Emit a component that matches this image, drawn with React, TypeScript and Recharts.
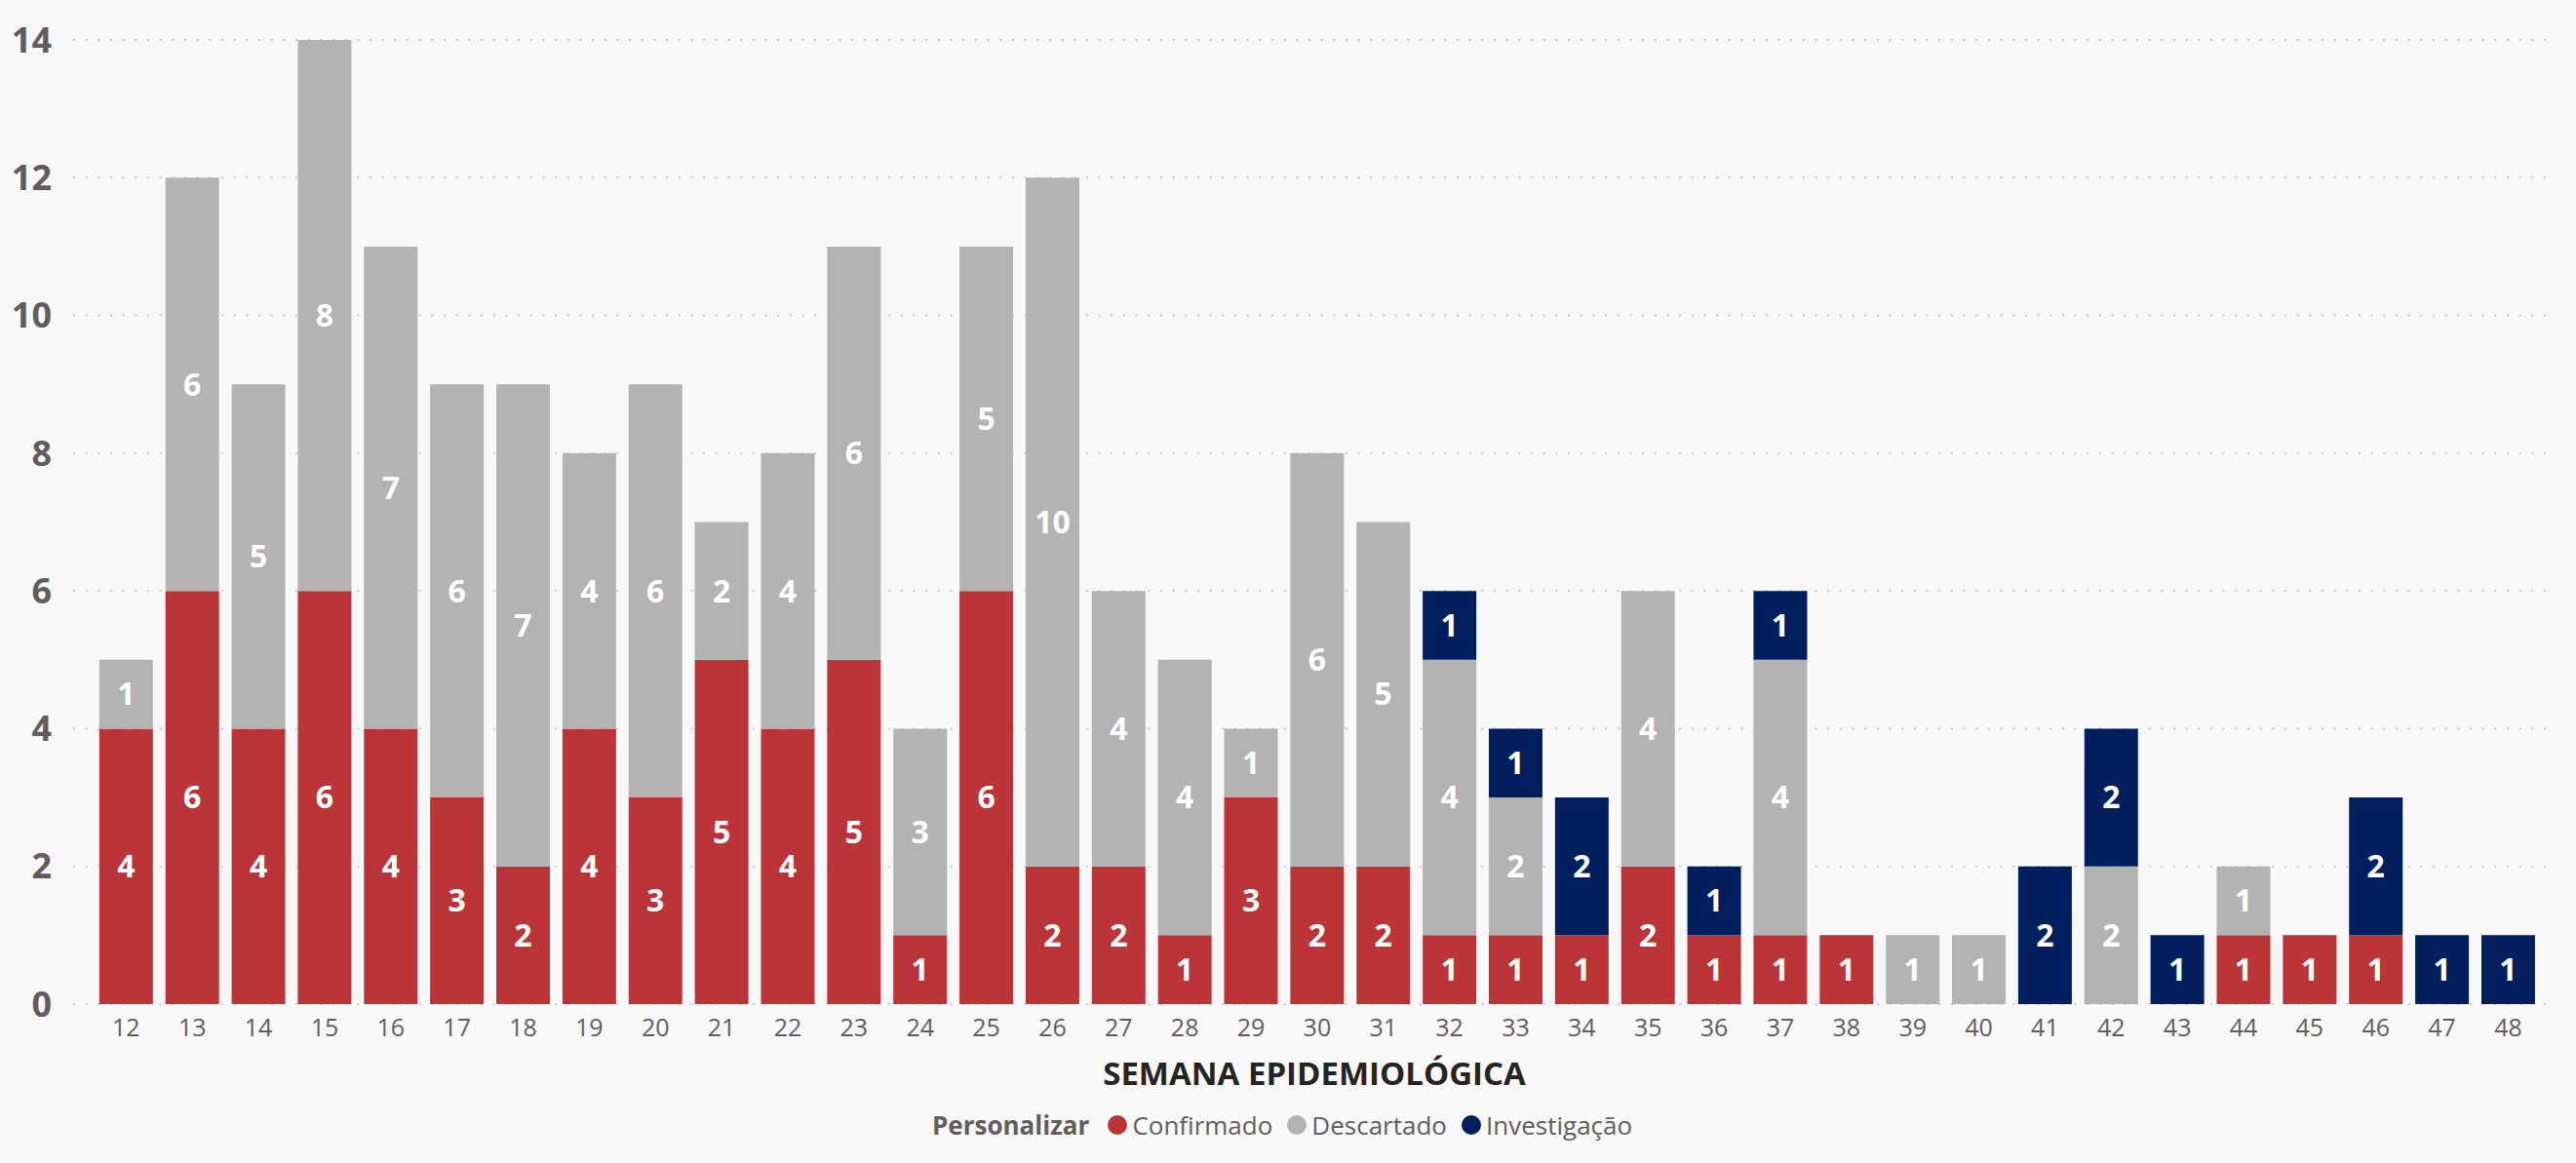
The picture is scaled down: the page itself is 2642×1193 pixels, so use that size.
import React from 'react';
import { BarChart, Bar, XAxis, YAxis, CartesianGrid, LabelList } from 'recharts';

const weeks = ['12','13','14','15','16','17','18','19','20','21','22','23','24','25','26','27','28','29','30','31','32','33','34','35','36','37','38','39','40','41','42','43','44','45','46','47','48'];
const confirmado = [4,6,4,6,4,3,2,4,3,5,4,5,1,6,2,2,1,3,2,2,1,1,1,2,1,1,1,0,0,0,0,0,1,1,1,0,0];
const descartado = [1,6,5,8,7,6,7,4,6,2,4,6,3,5,10,4,4,1,6,5,4,2,0,4,0,4,0,1,1,0,2,0,1,0,0,0,0];
const investigacao = [0,0,0,0,0,0,0,0,0,0,0,0,0,0,0,0,0,0,0,0,1,1,2,0,1,1,0,0,0,2,2,1,0,0,2,1,1];
const yTicks = [0, 2, 4, 6, 8, 10, 12, 14];

const seriesNames = ['Confirmado', 'Descartado', 'Investigação'];
const seriesColors = ['#BB3437', '#B3B3B3', '#011F5E'];

const data = weeks.map((w, i) => ({
  week: w,
  Confirmado: confirmado[i],
  Descartado: descartado[i],
  'Investigação': investigacao[i],
}));

const FONT = '"Open Sans", "Noto Sans", sans-serif';
const hideZero = (v: any) => (v ? v : '');

export default function App() {
  return (
    <div style={{ position: 'absolute', left: 0, top: 0, width: 2642, height: 1193, background: '#F8F8F8', fontFamily: FONT }}>
      <BarChart
        width={2642}
        height={1193}
        data={data}
        margin={{ top: 41, right: 20, left: 0, bottom: 113 }}
        barCategoryGap={6.43}
      >
        <CartesianGrid vertical={false} stroke="#C8C8C8" strokeWidth={2} strokeDasharray="2 10.67" />
        <XAxis
          dataKey="week"
          axisLine={false}
          tickLine={false}
          tickSize={0}
          tickMargin={15}
          height={50}
          interval={0}
          padding={{ left: 20.4, right: 15.6 }}
          tick={{ fill: '#605E5C', fontSize: 25, fontFamily: FONT }}
        />
        <YAxis
          domain={[0, 14]}
          ticks={yTicks}
          axisLine={false}
          tickLine={false}
          tickSize={0}
          tickMargin={22}
          width={75}
          tick={{ fill: '#605E5C', fontSize: 36, fontWeight: 700, fontFamily: FONT }}
        />
        {seriesNames.map((name, idx) => (
          <Bar key={name} dataKey={name} stackId="a" fill={seriesColors[idx]} isAnimationActive={false}>
            <LabelList
              dataKey={name}
              position="center"
              fill="#FFFFFF"
              fontSize={32}
              fontWeight={700}
              fontFamily={FONT}
              formatter={hideZero}
            />
          </Bar>
        ))}
      </BarChart>
      <div
        style={{
          position: 'absolute', left: 848, width: 1000, top: 1081, textAlign: 'center',
          fontSize: 33, lineHeight: '40px', fontWeight: 700, color: '#252423', fontFamily: FONT,
        }}
      >
        SEMANA EPIDEMIOLÓGICA
      </div>
      <div
        style={{
          position: 'absolute', left: 956, top: 1139, height: 30, display: 'flex', alignItems: 'center',
          fontSize: 26, lineHeight: '30px', color: '#605E5C', fontFamily: FONT, whiteSpace: 'nowrap',
        }}
      >
        <span style={{ fontWeight: 700, marginRight: 19 }}>Personalizar</span>
        {seriesNames.map((name, idx) => (
          <span key={name} style={{ display: 'flex', alignItems: 'center', marginRight: 15 }}>
            <span style={{ width: 20, height: 20, borderRadius: 10, background: seriesColors[idx], marginRight: 5, display: 'inline-block' }} />
            <span>{name}</span>
          </span>
        ))}
      </div>
    </div>
  );
}
